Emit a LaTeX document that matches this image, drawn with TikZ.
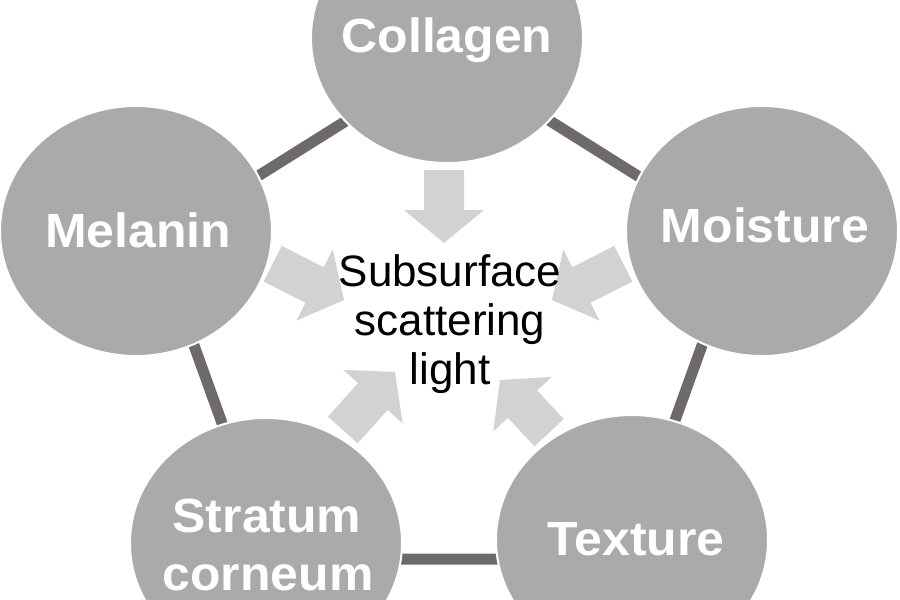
\documentclass[tikz,border=0pt]{standalone}
\usepackage{fontspec}
\setmainfont{Liberation Sans}
\newfontfamily\lblfont[FakeStretch=1.04]{Liberation Sans}
\usetikzlibrary{shapes.geometric}
\definecolor{blobgray}{HTML}{ACA9A9}
\definecolor{linkgray}{HTML}{6E6A6B}
\definecolor{arrgray}{HTML}{D2D2D2}
\tikzset{
  blob/.style={ellipse, fill=blobgray, draw=white, line width=2pt, minimum width=272pt, minimum height=250pt, inner sep=0pt},
  blobtext/.style={text=white, font=\lblfont\fontsize{48}{52}\selectfont\bfseries, inner sep=0pt, anchor=base},
  link/.style={draw=linkgray, line width=11pt},
  arrowfill/.style={fill=arrgray},
  centertext/.style={text=black, font=\fontsize{44}{49}\selectfont, align=center, inner sep=0pt}
}
\newcommand{\blockarr}[4]{%
  \begin{scope}[shift={(#1,#2)}, rotate=#3]
    \fill[arrowfill] (0,0) -- (-33,40) -- (-33,20) -- (-#4,20) -- (-#4,-20) -- (-33,-20) -- (-33,-40) -- cycle;
  \end{scope}}
\begin{document}
\begin{tikzpicture}[x=1pt, y=-1pt]
\useasboundingbox (0,0) rectangle (900,600);
\clip (0,0) rectangle (900,600);
% pentagon vertices for connectors
\coordinate (vtop) at (448,57);
\coordinate (vright) at (740,240);
\coordinate (vbr) at (625,559);
\coordinate (vbl) at (271,559);
\coordinate (vleft) at (156,240);
\draw[link] (vleft) -- (vtop) -- (vright) -- (vbr) -- (vbl) -- cycle;
% arrows
\blockarr{444}{243}{-90}{73}
\blockarr{552}{300}{207}{80}
\blockarr{344}{300}{-27}{80}
\blockarr{395}{372}{48}{78}
\blockarr{500}{380}{133}{72}
% circles
\node[blob] (collagen) at (447,38) {};
\node[blob] (moisture) at (762,231) {};
\node[blob] (texture) at (632,540) {};
\node[blob] (stratum) at (266,543) {};
\node[blob] (melanin) at (136,231) {};
% labels
\node[blobtext] (lcollagen) at (447,52) {Collagen};
\node[blobtext] (lmoisture) at (765,242) {Moisture};
\node[blobtext] (ltexture) at (636,555) {Texture};
\node[blobtext] (lstratum) at (267,532) {Stratum};
\node[blobtext] (lcorneum) at (268,590) {corneum};
\node[blobtext] (lmelanin) at (138,247) {Melanin};
% center text
\node[centertext] (center) at (450,324) {Subsurface\\scattering\\light};
\end{tikzpicture}
\end{document}
